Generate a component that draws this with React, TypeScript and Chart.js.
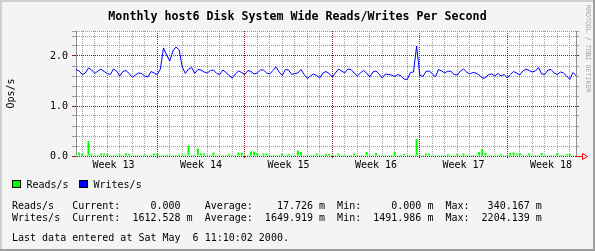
import React, { useEffect, useRef } from "react";
import { Chart, registerables } from "chart.js";

Chart.register(...registerables);

// ---- data ----
const STEP_HOURS = 6;
const X_MAX_HOURS = 960;

const WRITES = [
  1.73, 1.70, 1.63, 1.66, 1.76, 1.72, 1.65, 1.70, 1.74, 1.69,
  1.65, 1.63, 1.74, 1.70, 1.60, 1.69, 1.71, 1.65, 1.57, 1.62,
  1.66, 1.65, 1.60, 1.58, 1.69, 1.66, 1.63, 1.74, 2.16, 2.02,
  1.90, 2.10, 2.18, 2.12, 1.78, 1.65, 1.74, 1.77, 1.65, 1.73,
  1.72, 1.68, 1.66, 1.71, 1.72, 1.65, 1.63, 1.72, 1.67, 1.61,
  1.56, 1.64, 1.70, 1.67, 1.63, 1.71, 1.69, 1.64, 1.66, 1.72,
  1.72, 1.66, 1.64, 1.71, 1.78, 1.68, 1.61, 1.73, 1.72, 1.63,
  1.65, 1.66, 1.73, 1.63, 1.55, 1.60, 1.64, 1.61, 1.56, 1.66,
  1.69, 1.65, 1.58, 1.66, 1.74, 1.70, 1.66, 1.74, 1.73, 1.66,
  1.60, 1.66, 1.71, 1.66, 1.58, 1.68, 1.70, 1.64, 1.56, 1.64,
  1.63, 1.62, 1.59, 1.63, 1.60, 1.54, 1.53, 1.67, 1.68, 2.20,
  1.62, 1.59, 1.69, 1.70, 1.65, 1.58, 1.73, 1.70, 1.66, 1.70,
  1.69, 1.63, 1.62, 1.70, 1.74, 1.68, 1.64, 1.67, 1.66, 1.62,
  1.56, 1.56, 1.63, 1.64, 1.60, 1.65, 1.60, 1.63, 1.56, 1.63,
  1.69, 1.66, 1.62, 1.70, 1.74, 1.71, 1.68, 1.70, 1.77, 1.64,
  1.63, 1.72, 1.73, 1.66, 1.63, 1.68, 1.66, 1.60, 1.53, 1.67,
  1.61,
];

const READS = [
  0.02, 0.07, 0.05, 0.02, 0.30, 0.04, 0.02, 0.02, 0.05, 0.05,
  0.04, 0.02, 0.02, 0.03, 0.03, 0.02, 0.05, 0.04, 0.02, 0.02,
  0.02, 0.02, 0.03, 0.02, 0.02, 0.05, 0.05, 0.02, 0.02, 0.03,
  0.02, 0.02, 0.02, 0.03, 0.03, 0.03, 0.21, 0.02, 0.02, 0.15,
  0.05, 0.05, 0.02, 0.02, 0.07, 0.02, 0.02, 0.02, 0.02, 0.04,
  0.02, 0.02, 0.07, 0.07, 0.02, 0.02, 0.09, 0.09, 0.06, 0.02,
  0.05, 0.05, 0.02, 0.02, 0.02, 0.02, 0.05, 0.02, 0.04, 0.02,
  0.02, 0.11, 0.08, 0.02, 0.02, 0.02, 0.02, 0.05, 0.02, 0.02,
  0.04, 0.04, 0.02, 0.02, 0.05, 0.02, 0.02, 0.02, 0.02, 0.05,
  0.02, 0.02, 0.02, 0.08, 0.02, 0.02, 0.06, 0.02, 0.02, 0.02,
  0.02, 0.02, 0.08, 0.02, 0.02, 0.04, 0.02, 0.02, 0.02, 0.34,
  0.02, 0.02, 0.05, 0.05, 0.02, 0.02, 0.02, 0.02, 0.02, 0.04,
  0.02, 0.02, 0.04, 0.02, 0.05, 0.02, 0.02, 0.02, 0.02, 0.08,
  0.14, 0.06, 0.02, 0.02, 0.02, 0.02, 0.04, 0.02, 0.02, 0.06,
  0.07, 0.05, 0.06, 0.02, 0.02, 0.05, 0.02, 0.02, 0.02, 0.06,
  0.02, 0.02, 0.02, 0.02, 0.06, 0.02, 0.02, 0.04, 0.04, 0.02,
  0.00,
];

const Y_TICKS = [0, 0.2, 0.4, 0.6, 0.8, 1.0, 1.2, 1.4, 1.6, 1.8, 2.0, 2.2, 2.4, 2.5];
const Y_MAJOR = [0, 1, 2];
const Y_MAX = 2.5;

const FIRST_DAY_HOUR = 12;
const DAY_COUNT = 40;
const WEEK_START_HOURS = [156, 324, 492, 660, 828];
const WEEK_LABEL_HOURS = [72, 240, 408, 576, 744, 912];
const WEEK_LABELS = ["Week 13", "Week 14", "Week 15", "Week 16", "Week 17", "Week 18"];

const TITLE = "Monthly host6 Disk System Wide Reads/Writes Per Second";
const Y_TITLE = "Ops/s";
const SIDE_TEXT = "RRDTOOL / TOBI OETIKER";
const LEGEND_LABELS = ["Reads/s", "Writes/s"];
const STAT_LINES = [
  "Reads/s   Current:     0.000    Average:    17.726 m  Min:     0.000 m  Max:   340.167 m",
  "Writes/s  Current:  1612.528 m  Average:  1649.919 m  Min:  1491.986 m  Max:  2204.139 m",
];
const FOOTER = "Last data entered at Sat May  6 11:10:02 2000.";

// ---- styles ----
const MONO = "'DejaVu Sans Mono', 'Liberation Mono', monospace";
const BG = "#f4f4f4";
const SHADE_LIGHT = "#cfcfcf";
const SHADE_DARK = "#9e9e9e";
const GRID_GRAY = "#9a9a9a";
const GRID_RED = "#8b1a1a";
const AXIS_GRAY = "#909090";
const READ_COLOR = "#00ff00";
const WRITE_COLOR = "#0000ff";
const TRANSPARENT = "rgba(0,0,0,0)";

function yGridColor(ctx: any) {
  const v = ctx && ctx.tick ? ctx.tick.value : null;
  return v !== null && Y_MAJOR.includes(v) ? GRID_RED : GRID_GRAY;
}

function xIsLabel(v: number) {
  return WEEK_LABEL_HOURS.includes(v);
}
function xGridColor(ctx: any) {
  const v = ctx && ctx.tick ? ctx.tick.value : null;
  if (v === null || xIsLabel(v)) return TRANSPARENT;
  return WEEK_START_HOURS.includes(v) ? GRID_RED : GRID_GRAY;
}
function xTickColor(ctx: any) {
  const v = ctx && ctx.tick ? ctx.tick.value : null;
  if (v === null || xIsLabel(v)) return TRANSPARENT;
  return WEEK_START_HOURS.includes(v) ? GRID_RED : TRANSPARENT;
}

export default function App() {
  const ref = useRef<HTMLCanvasElement>(null);

  useEffect(() => {
    const canvas = ref.current;
    if (!canvas) return;
    const hours = WRITES.map((_, i) => i * STEP_HOURS);

    const rrdPlugin = {
      id: "rrdDecor",
      beforeDraw(chart: any) {
        const { ctx, width, height, chartArea } = chart;
        ctx.save();
        ctx.fillStyle = BG;
        ctx.fillRect(0, 0, width, height);
        ctx.fillStyle = SHADE_LIGHT;
        ctx.fillRect(0, 0, width, 2);
        ctx.fillRect(0, 0, 2, height);
        ctx.fillStyle = SHADE_DARK;
        ctx.fillRect(0, height - 2, width, 2);
        ctx.fillRect(width - 2, 0, 2, height);
        ctx.fillStyle = "#ffffff";
        ctx.fillRect(chartArea.left, chartArea.top, chartArea.right - chartArea.left, chartArea.bottom - chartArea.top);
        ctx.restore();
      },
      afterDraw(chart: any) {
        const { ctx, chartArea } = chart;
        ctx.save();
        // title
        ctx.fillStyle = "#000";
        ctx.font = `bold 13px ${MONO}`;
        ctx.textAlign = "center";
        ctx.textBaseline = "alphabetic";
        ctx.save();
        ctx.translate(297.5, 20);
        ctx.scale(0.895, 1);
        ctx.fillText(TITLE, 0, 0);
        ctx.restore();

        // side text
        ctx.save();
        ctx.fillStyle = "#a0a0a0";
        ctx.font = `6.6px ${MONO}`;
        ctx.textAlign = "left";
        ctx.textBaseline = "middle";
        ctx.translate(588, 5);
        ctx.rotate(Math.PI / 2);
        ctx.fillText(SIDE_TEXT, 0, 0);
        ctx.restore();

        // x-axis arrow
        const y0 = Math.round(chartArea.bottom) + 0.5;
        ctx.strokeStyle = "#ff0000";
        ctx.lineWidth = 1;
        ctx.beginPath();
        ctx.moveTo(chartArea.right, y0);
        ctx.lineTo(583, y0);
        ctx.stroke();
        ctx.beginPath();
        ctx.moveTo(582.5, y0 - 3);
        ctx.lineTo(587.5, y0);
        ctx.lineTo(582.5, y0 + 3);
        ctx.closePath();
        ctx.stroke();

        // legend
        ctx.font = `10px ${MONO}`;
        ctx.textAlign = "left";
        ctx.textBaseline = "alphabetic";
        const legendColors = [READ_COLOR, WRITE_COLOR];
        const boxX = [12, 79];
        LEGEND_LABELS.forEach((lab, i) => {
          ctx.fillStyle = legendColors[i];
          ctx.fillRect(boxX[i], 180, 9, 8);
          ctx.strokeStyle = "#000";
          ctx.strokeRect(boxX[i] + 0.5, 180.5, 8, 7);
          ctx.fillStyle = "#000";
          ctx.fillText(lab, boxX[i] + 14.5, 187.5);
        });

        // stats
        ctx.fillStyle = "#000";
        ctx.fillText(STAT_LINES[0], 12, 208.5);
        ctx.fillText(STAT_LINES[1], 12, 220.5);
        ctx.fillText(FOOTER, 12, 241);
        ctx.restore();
      },
    };

    const chart = new Chart(canvas, {
      type: "line",
      data: {
        labels: hours,
        datasets: [
          {
            type: "line",
            label: LEGEND_LABELS[1],
            data: WRITES,
            borderColor: WRITE_COLOR,
            borderWidth: 1,
            pointRadius: 0,
            fill: false,
            tension: 0,
            order: 0,
          },
          {
            type: "bar",
            label: LEGEND_LABELS[0],
            data: READS,
            backgroundColor: READ_COLOR,
            borderWidth: 0,
            barPercentage: 0.65,
            categoryPercentage: 1,
            order: 1,
          },
        ] as any,
      },
      options: {
        responsive: false,
        animation: false,
        devicePixelRatio: 1,
        events: [],
        layout: { padding: { top: 31, left: 0, right: 0, bottom: 0 } },
        plugins: {
          legend: { display: false },
          tooltip: { enabled: false },
          title: { display: false },
        },
        scales: {
          x: {
            type: "linear",
            position: "bottom",
            min: 0,
            max: X_MAX_HOURS,
            offset: false,
            afterBuildTicks: (s: any) => {
              const vals: number[] = [];
              for (let d = 0; d < DAY_COUNT; d++) vals.push(FIRST_DAY_HOUR + d * 24);
              WEEK_LABEL_HOURS.forEach((h) => vals.push(h));
              vals.sort((a, b) => a - b);
              s.ticks = vals.map((v) => ({ value: v }));
            },
            afterFit: (s: any) => {
              s.height = 95;
            },
            grid: {
              offset: false,
              color: xGridColor,
              tickColor: xTickColor,
              lineWidth: 1,
              drawTicks: true,
              tickLength: 2,
            },
            border: { display: false, dash: [1, 1] },
            ticks: {
              autoSkip: false,
              maxRotation: 0,
              minRotation: 0,
              padding: 1,
              color: "#000",
              font: { family: MONO, size: 10 },
              callback: (v: any) => {
                const idx = WEEK_LABEL_HOURS.indexOf(Number(v));
                return idx >= 0 ? WEEK_LABELS[idx] : "";
              },
            },
          },
          y: {
            type: "linear",
            position: "left",
            min: 0,
            max: Y_MAX,
            afterBuildTicks: (s: any) => {
              s.ticks = Y_TICKS.map((v) => ({ value: v }));
            },
            afterFit: (s: any) => {
              s.width = 76;
            },
            grid: {
              color: yGridColor,
              tickColor: yGridColor,
              lineWidth: 1,
              drawTicks: true,
              tickLength: 4,
            },
            border: { display: true, color: AXIS_GRAY, width: 1, dash: [1, 1] },
            ticks: {
              autoSkip: false,
              padding: 4,
              color: "#000",
              font: { family: MONO, size: 10 },
              callback: (v: any) => (Y_MAJOR.includes(Number(v)) ? Number(v).toFixed(1) : ""),
            },
            title: {
              display: true,
              text: Y_TITLE,
              color: "#000",
              font: { family: MONO, size: 10 },
              padding: { top: 5.5, bottom: 0 },
            },
          },
          y2: {
            type: "linear",
            position: "right",
            min: 0,
            max: Y_MAX,
            afterBuildTicks: (s: any) => {
              s.ticks = Y_TICKS.map((v) => ({ value: v }));
            },
            afterFit: (s: any) => {
              s.width = 19;
            },
            grid: {
              drawOnChartArea: false,
              color: yGridColor,
              tickColor: yGridColor,
              drawTicks: true,
              tickLength: 3,
            },
            border: { display: true, color: AXIS_GRAY, width: 1 },
            ticks: { display: false, autoSkip: false },
          },
        },
      } as any,
      plugins: [rrdPlugin],
    });

    return () => chart.destroy();
  }, []);

  return (
    <div style={{ position: "fixed", left: 0, top: 0, width: 595, height: 251 }}>
      <canvas ref={ref} width={595} height={251} style={{ display: "block", width: 595, height: 251 }} />
    </div>
  );
}
